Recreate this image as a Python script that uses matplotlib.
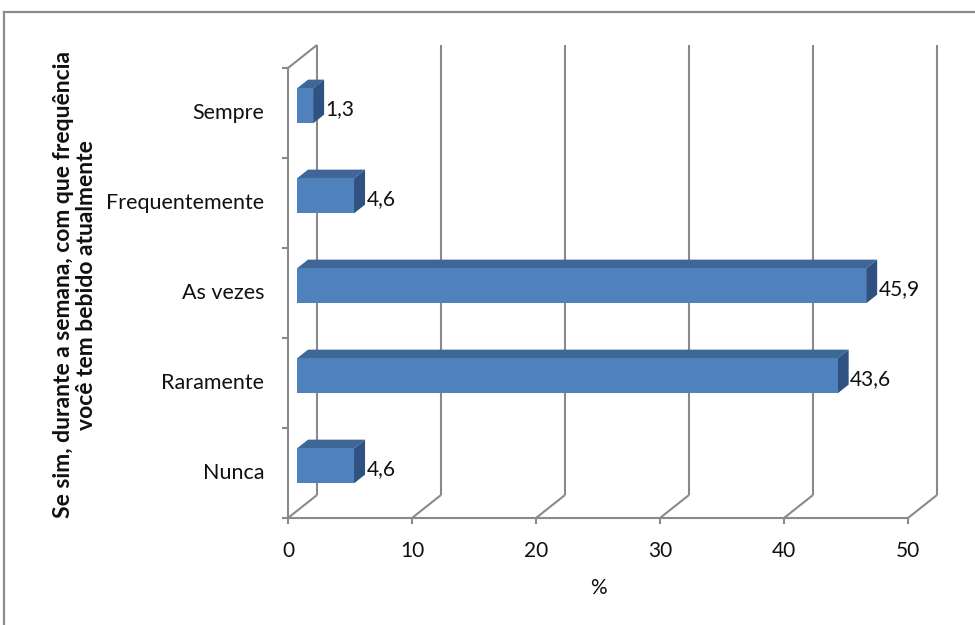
import matplotlib
matplotlib.use("Agg")
import matplotlib.pyplot as plt
from matplotlib.patches import Polygon
from matplotlib.lines import Line2D

# Data
categories = ["Nunca", "Raramente", "As vezes", "Frequentemente", "Sempre"]
values = [4.6, 43.6, 45.9, 4.6, 1.3]
value_labels = ["4,6", "43,6", "45,9", "4,6", "1,3"]
xticks = [0, 10, 20, 30, 40, 50]
xlabel = "%"
ylabel = "Se sim, durante a semana, com que frequência\nvocê tem bebido atualmente"

FONT = "Lato"
W, H = 975, 625
fig = plt.figure(figsize=(W / 100, H / 100), dpi=100)
fig.patch.set_facecolor("white")

# front plane of the pseudo-3D box, in pixels
px_left, px_right, px_top, px_bot = 288, 908, 68, 518
ax = fig.add_axes([px_left / W, 1 - px_bot / H, (px_right - px_left) / W, (px_bot - px_top) / H])
ax.set_xlim(0, 50)
ax.set_ylim(-0.5, 4.5)
ax.axis("off")

# depth offset (back wall relative to front plane), in data units
depth_px = (29, 23)
ddx = depth_px[0] / (px_right - px_left) * 50
ddy = depth_px[1] / (px_bot - px_top) * 5

grid_c = "#8a8a8a"
lw = 1.5

def line(xs, ys, **kw):
    ax.add_line(Line2D(xs, ys, color=grid_c, lw=lw, clip_on=False,
                       solid_capstyle="butt", **kw))

# back wall gridlines and floor diagonals
for t in xticks:
    line([t + ddx, t + ddx], [-0.5 + ddy, 4.5 + ddy], zorder=1)
    line([t, t + ddx], [-0.5, -0.5 + ddy], zorder=1)
# left side wall top edge
line([0, ddx], [4.5, 4.5 + ddy], zorder=1)
# front axes
line([0, 0], [-0.5, 4.5], zorder=2)
line([0, 50], [-0.5, -0.5], zorder=2)

# tick marks
tick_x = 6 / (px_right - px_left) * 50
tick_y = 6 / (px_bot - px_top) * 5
for b in range(6):
    line([-tick_x, 0], [b - 0.5, b - 0.5], zorder=2)
for t in xticks:
    line([t, t], [-0.5, -0.5 - tick_y], zorder=2)

# bars
d0, d1 = 0.31, 0.69
half = 17.5 / (px_bot - px_top) * 5
front_c = "#4f81bd"
top_c = "#3e6697"
side_c = "#2f5283"
for i, (v, lab) in enumerate(zip(values, value_labels)):
    x0f, y0f = d0 * ddx, d0 * ddy
    x1b, y1b = d1 * ddx, d1 * ddy
    ylo, yhi = i - half, i + half
    front = [(x0f, ylo + y0f), (v + x0f, ylo + y0f), (v + x0f, yhi + y0f), (x0f, yhi + y0f)]
    top = [(x0f, yhi + y0f), (v + x0f, yhi + y0f), (v + x1b, yhi + y1b), (x1b, yhi + y1b)]
    side = [(v + x0f, ylo + y0f), (v + x1b, ylo + y1b), (v + x1b, yhi + y1b), (v + x0f, yhi + y0f)]
    for poly, c in ((top, top_c), (side, side_c), (front, front_c)):
        ax.add_patch(Polygon(poly, closed=True, facecolor=c, edgecolor="none",
                             zorder=5, clip_on=False))
    ax.annotate(lab, (v + x1b, i + y0f), xytext=(1, -2), textcoords="offset points",
                ha="left", va="center", fontsize=15, family=FONT, color="#111111",
                zorder=6, annotation_clip=False)

# category labels
for i, c in enumerate(categories):
    ax.annotate(c, (0, i), xytext=(-17, 0), textcoords="offset points",
                ha="right", va="center", fontsize=15.5, family=FONT, color="#111111",
                annotation_clip=False)

# value axis labels
for t in xticks:
    ax.annotate(str(t), (t, -0.5), xytext=(0, -24), textcoords="offset points",
                ha="center", va="center", fontsize=15, family=FONT, color="#111111",
                annotation_clip=False)

fig.text(598 / W, 1 - 588 / H, xlabel, ha="center", va="center",
         fontsize=15, family=FONT, color="#111111")
fig.text(75 / W, 1 - 285 / H, ylabel, ha="center", va="center", rotation=90,
         fontsize=16.5, family=FONT, fontweight="bold", color="#111111",
         multialignment="center", linespacing=1.12)

# chart area border
fig.add_artist(Line2D([4 / W, 1], [1 - 12 / H, 1 - 12 / H], transform=fig.transFigure,
                      color="#8c8c8c", lw=1.6))
fig.add_artist(Line2D([4 / W, 4 / W], [0, 1 - 12 / H], transform=fig.transFigure,
                      color="#8c8c8c", lw=1.6))

fig.savefig("out.png", dpi=100)
